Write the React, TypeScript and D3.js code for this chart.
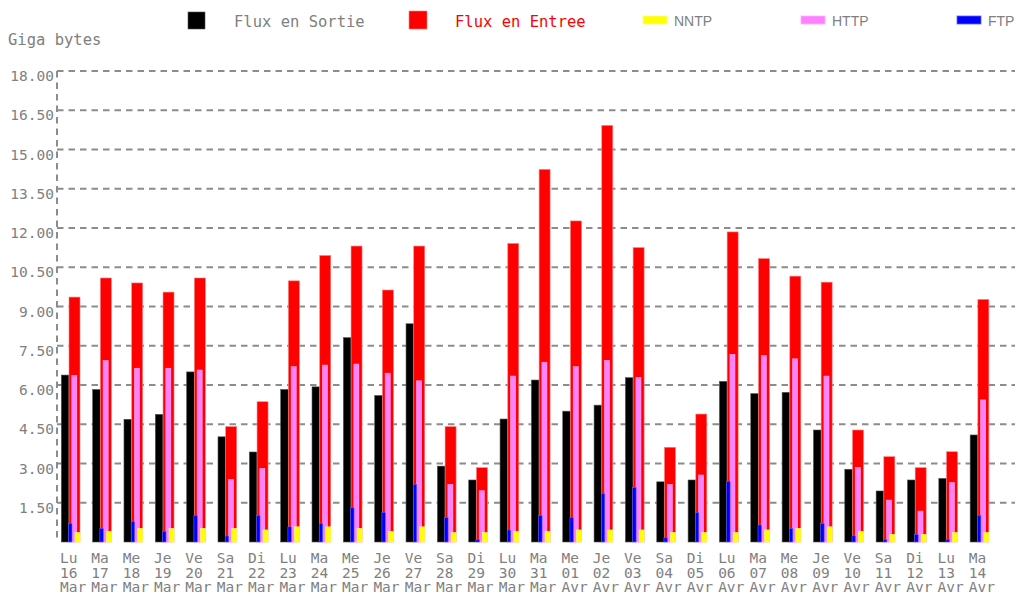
import * as d3 from 'd3'
import React, { useRef, useEffect } from 'react'

// Daily traffic, in gigabytes
const dayNames = ['Lu', 'Ma', 'Me', 'Je', 'Ve', 'Sa', 'Di', 'Lu', 'Ma', 'Me', 'Je', 'Ve', 'Sa', 'Di', 'Lu',
  'Ma', 'Me', 'Je', 'Ve', 'Sa', 'Di', 'Lu', 'Ma', 'Me', 'Je', 'Ve', 'Sa', 'Di', 'Lu', 'Ma']
const dayNumbers = ['16', '17', '18', '19', '20', '21', '22', '23', '24', '25', '26', '27', '28', '29', '30',
  '31', '01', '02', '03', '04', '05', '06', '07', '08', '09', '10', '11', '12', '13', '14']
const months = ['Mar', 'Mar', 'Mar', 'Mar', 'Mar', 'Mar', 'Mar', 'Mar', 'Mar', 'Mar', 'Mar', 'Mar', 'Mar', 'Mar', 'Mar',
  'Mar', 'Avr', 'Avr', 'Avr', 'Avr', 'Avr', 'Avr', 'Avr', 'Avr', 'Avr', 'Avr', 'Avr', 'Avr', 'Avr', 'Avr']

const fluxSortie = [6.38, 5.83, 4.69, 4.88, 6.5, 4.02, 3.44, 5.83, 5.93, 7.81, 5.6, 8.34, 2.9, 2.37, 4.7,
  6.19, 5.0, 5.23, 6.28, 2.3, 2.37, 6.14, 5.67, 5.72, 4.28, 2.78, 1.95, 2.37, 2.43, 4.09]
const fluxEntree = [9.36, 10.09, 9.9, 9.55, 10.09, 4.41, 5.36, 9.98, 10.95, 11.31, 9.63, 11.31, 4.41, 2.84, 11.41,
  14.24, 12.27, 15.92, 11.25, 3.62, 4.89, 11.85, 10.83, 10.16, 9.93, 4.28, 3.26, 2.84, 3.45, 9.27]
const nntp = [0.36, 0.41, 0.52, 0.52, 0.52, 0.52, 0.46, 0.58, 0.58, 0.52, 0.41, 0.58, 0.36, 0.36, 0.41,
  0.41, 0.46, 0.46, 0.46, 0.36, 0.36, 0.36, 0.46, 0.52, 0.58, 0.41, 0.29, 0.29, 0.36, 0.36]
const http = [6.36, 6.93, 6.64, 6.64, 6.57, 2.39, 2.81, 6.7, 6.76, 6.8, 6.45, 6.16, 2.2, 1.96, 6.34,
  6.87, 6.7, 6.94, 6.29, 2.2, 2.56, 7.17, 7.12, 7.0, 6.34, 2.85, 1.6, 1.18, 2.27, 5.43]
const ftp = [0.71, 0.52, 0.78, 0.41, 1.02, 0.23, 1.02, 0.58, 0.71, 1.31, 1.13, 2.2, 0.94, 0.1, 0.46,
  1.02, 0.94, 1.85, 2.09, 0.17, 1.12, 2.32, 0.65, 0.52, 0.71, 0.24, 0.1, 0.29, 0.1, 1.02]

const yTicks = [1.5, 3, 4.5, 6, 7.5, 9, 10.5, 12, 13.5, 15, 16.5, 18]

const MONO = '"DejaVu Sans Mono", monospace'
const GREY = '#808080'

const FluxChart = () => {
  const d3Container = useRef<SVGSVGElement | null>(null)

  useEffect(() => {
    const svg = d3.select(d3Container.current)
    svg.selectAll('*').remove()

    const left = 57
    const right = 1015
    const y = d3.scaleLinear().domain([0, 18]).range([542, 71])
    const x = d3.scaleBand<number>().domain(d3.range(dayNames.length)).range([left, 997.2])

    // Grid lines
    svg.append('g')
      .selectAll('line')
      .data(yTicks)
      .enter().append('line')
      .attr('x1', left)
      .attr('x2', right)
      .attr('y1', d => y(d))
      .attr('y2', d => y(d))
      .attr('stroke', '#8c8c8c')
      .attr('stroke-width', 2)
      .attr('stroke-dasharray', '6.5,5')

    // Dashed vertical axis
    svg.append('line')
      .attr('x1', left).attr('x2', left)
      .attr('y1', y(18)).attr('y2', y(0))
      .attr('stroke', '#8c8c8c')
      .attr('stroke-width', 2)
      .attr('stroke-dasharray', '6.5,5')

    // Tick labels
    svg.append('g')
      .selectAll('text')
      .data(yTicks)
      .enter().append('text')
      .attr('x', 54)
      .attr('y', d => y(d) + 10)
      .attr('text-anchor', 'end')
      .style('font-family', MONO)
      .style('font-size', '14.5px')
      .attr('fill', GREY)
      .text(d => d3.format('.2f')(d))

    // Bars: each series gets its own offset inside a day's band
    const series = [
      { values: fluxSortie, color: '#000000', edge: '#555555', dx: 4.3, w: 7.7 },
      { values: fluxEntree, color: '#ff0000', edge: '#ff8080', dx: 12, w: 11 },
      { values: http, color: '#ff80ff', edge: '#ffb0ff', dx: 14.8, w: 5 },
      { values: ftp, color: '#0000ff', edge: '#6060ff', dx: 11.5, w: 3.5 },
      { values: nntp, color: '#ffff00', edge: '#ffff80', dx: 18, w: 5 },
    ]

    series.forEach(s => {
      svg.append('g')
        .selectAll('rect')
        .data(s.values)
        .enter().append('rect')
        .attr('x', (d, i) => (x(i) as number) + s.dx)
        .attr('y', d => y(d))
        .attr('width', s.w)
        .attr('height', d => y(0) - y(d))
        .attr('fill', s.color)
        .attr('stroke', s.edge)
        .attr('stroke-width', 0.6)
    })

    // Day labels, one text per line
    const lines = [
      { values: dayNames, y: 563 },
      { values: dayNumbers, y: 577.5 },
      { values: months, y: 592 },
    ]
    lines.forEach(line => {
      svg.append('g')
        .selectAll('text')
        .data(line.values)
        .enter().append('text')
        .attr('x', (d, i) => (x(i) as number) + 3)
        .attr('y', line.y)
        .style('font-family', MONO)
        .style('font-size', '14.5px')
        .attr('fill', GREY)
        .text(d => d)
    })

    // Y axis title
    svg.append('text')
      .attr('x', 8)
      .attr('y', 45)
      .style('font-family', MONO)
      .style('font-size', '15.5px')
      .attr('fill', GREY)
      .text('Giga bytes')

    // Legend
    svg.append('rect').attr('x', 188).attr('y', 12).attr('width', 17).attr('height', 17)
      .attr('fill', '#000').attr('stroke', '#555').attr('stroke-width', 0.6)
    svg.append('text').attr('x', 234).attr('y', 26.5)
      .style('font-family', MONO).style('font-size', '15.5px').attr('fill', GREY)
      .text('Flux en Sortie')
    svg.append('rect').attr('x', 409).attr('y', 11).attr('width', 18).attr('height', 18)
      .attr('fill', '#ff0000').attr('stroke', '#ff8080').attr('stroke-width', 0.6)
    svg.append('text').attr('x', 455).attr('y', 26.5)
      .style('font-family', MONO).style('font-size', '15.5px').attr('fill', '#ff0000')
      .text('Flux en Entree')

    const smallKeys = [
      { label: 'NNTP', color: '#ffff00', edge: '#ffff80', x: 643 },
      { label: 'HTTP', color: '#ff80ff', edge: '#ffb0ff', x: 801 },
      { label: 'FTP', color: '#0000ff', edge: '#6060ff', x: 957 },
    ]
    smallKeys.forEach(k => {
      svg.append('rect').attr('x', k.x).attr('y', 16).attr('width', 24).attr('height', 8)
        .attr('fill', k.color).attr('stroke', k.edge).attr('stroke-width', 0.8)
      svg.append('text').attr('x', k.x + 31).attr('y', 25.5)
        .style('font-family', '"Liberation Sans", Arial, sans-serif').style('font-size', '14px')
        .attr('fill', GREY)
        .text(k.label)
    })
  }, [])

  return (
    <svg ref={ d3Container } width={ 1020 } height={ 595 }
      style={{ position: 'absolute', left: 0, top: 0, background: '#fff' }} />
  )
}

export default function App() {
  return <FluxChart />
}
